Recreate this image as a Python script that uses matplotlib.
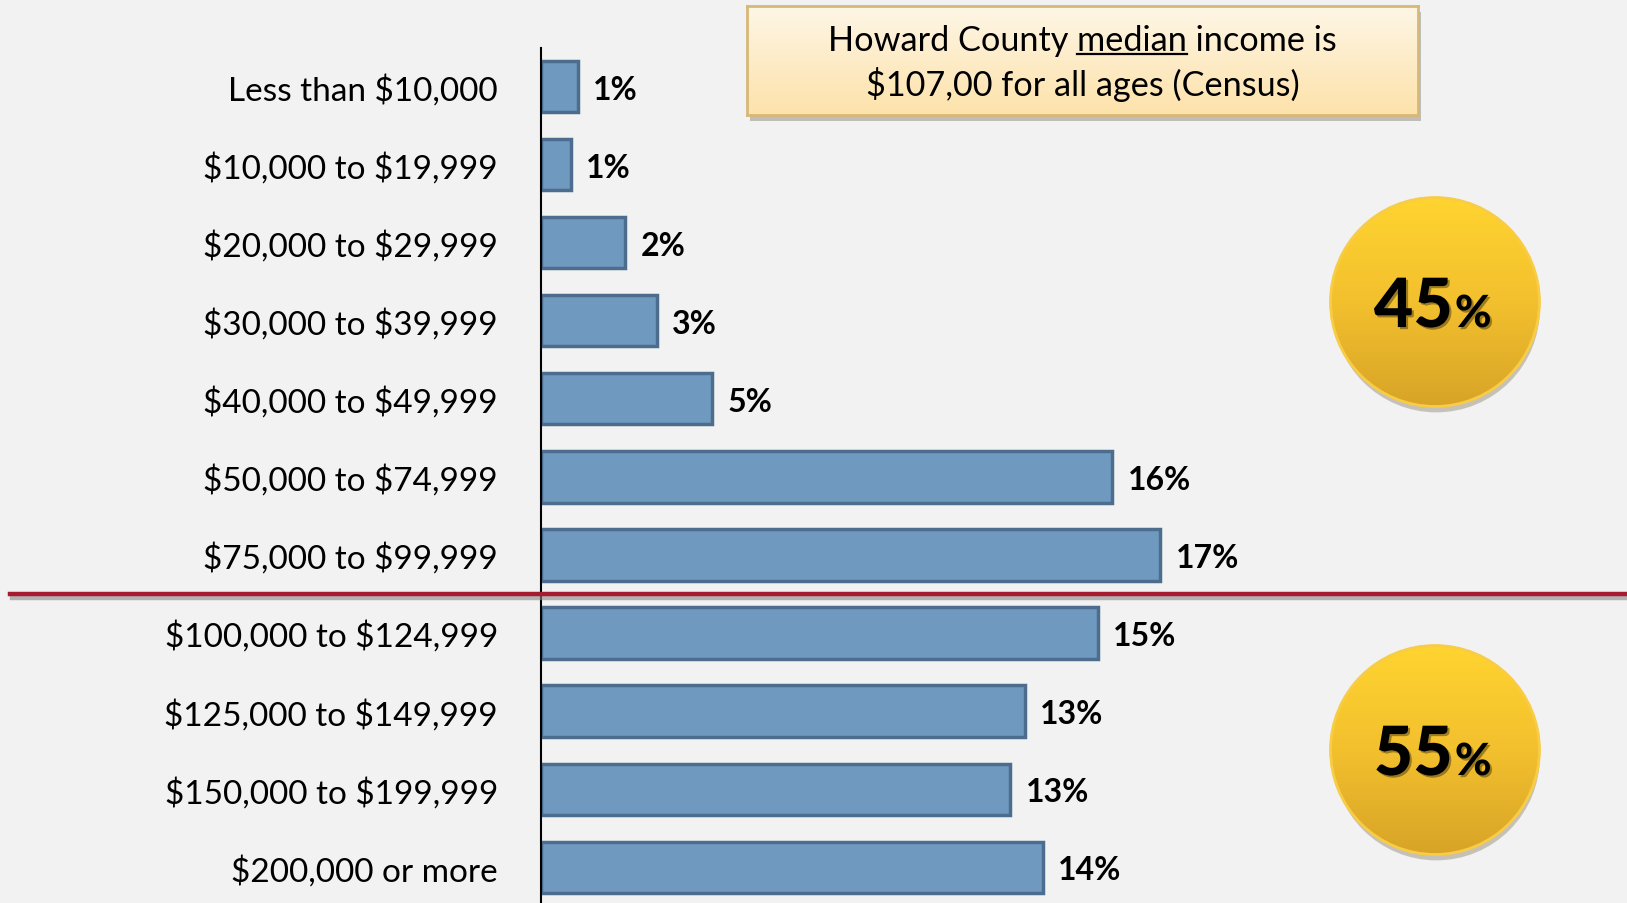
import numpy as np
import matplotlib
matplotlib.use('Agg')
import matplotlib.pyplot as plt
import matplotlib.patheffects as pe
import matplotlib.transforms as mtransforms
from matplotlib.patches import Circle, Rectangle
from matplotlib.colors import LinearSegmentedColormap

plt.rcParams['font.family'] = ['Lato', 'DejaVu Sans']
plt.rcParams['text.parse_math'] = False

# income brackets, top to bottom
categories = ['Less than $10,000', '$10,000 to $19,999', '$20,000 to $29,999',
              '$30,000 to $39,999', '$40,000 to $49,999', '$50,000 to $74,999',
              '$75,000 to $99,999', '$100,000 to $124,999', '$125,000 to $149,999',
              '$150,000 to $199,999', '$200,000 or more']
shares = [1.04, 0.84, 2.36, 3.25, 4.79, 16.0, 17.35, 15.6, 13.55, 13.15, 14.05]
share_labels = ['1%', '1%', '2%', '3%', '5%', '16%', '17%', '15%', '13%', '13%', '14%']
split_after = 6  # last bracket below $100k
group_totals = ['45', '55']
note_line1 = ['Howard County ', 'median', ' income is']
note_line2 = '$107,00 for all ages (Census)'

bg = '#f2f2f2'
W, H = 1627, 904
fig = plt.figure(figsize=(W / 100, H / 100), dpi=100, facecolor=bg)

def fx(px):
    return px / W

def fy(py):
    return 1 - py / H

# main bar chart
ax = fig.add_axes([fx(541), 0, fx(W - 541), fy(48.8)])
ax.set_facecolor('none')
y = np.arange(len(categories))
ax.barh(y, shares, height=0.655, color='#7099bf', edgecolor='#4c6d8e', linewidth=2.5)
ax.set_ylim(10.46, -0.5)
ax.set_xlim(0, (W - 541) / 35.7)
ax.set_yticks(y)
ax.set_yticklabels(categories, fontsize=24)
ax.tick_params(axis='y', length=0, pad=31)
ax.set_xticks([])
for s in ['top', 'right', 'bottom']:
    ax.spines[s].set_visible(False)
ax.spines['left'].set_linewidth(1.5)
ax.spines['left'].set_color('black')

for yi, v, lab in zip(y, shares, share_labels):
    ax.annotate(lab, (v, yi), xytext=(11, -2), textcoords='offset points',
                ha='left', va='center', fontsize=23, fontweight='bold')

# red divider between <100k and >=100k
trans = mtransforms.blended_transform_factory(fig.transFigure, ax.transData)
ax.plot([fx(10), 1.0], [split_after + 0.5] * 2, transform=trans, color='#a51c30',
        linewidth=3.2, clip_on=False, zorder=5,
        path_effects=[pe.SimpleLineShadow(offset=(1.5, -3), shadow_color='#888888', alpha=0.6),
                      pe.Normal()])

# note box
bx0, by0, bx1, by1 = 747, 7, 1418, 116
fig.patches.append(Rectangle((fx(bx0), fy(by1)), fx(bx1 - bx0), (by1 - by0) / H,
                             transform=fig.transFigure, facecolor='#fde4b0', edgecolor='none',
                             zorder=1.5,
                             path_effects=[pe.SimplePatchShadow(offset=(2, -4), alpha=0.3), pe.Normal()]))
bax = fig.add_axes([fx(bx0), fy(by1), fx(bx1 - bx0), (by1 - by0) / H])
bax.set_zorder(2)
box_cmap = LinearSegmentedColormap.from_list('box', ['#fef6e6', '#fde2aa'])
bax.imshow(np.linspace(0, 1, 100).reshape(-1, 1), cmap=box_cmap, aspect='auto',
           extent=(0, 1, 0, 1), zorder=0)
bax.set_xlim(0, 1)
bax.set_ylim(0, 1)
bax.set_xticks([])
bax.set_yticks([])
for s in bax.spines.values():
    s.set_color('#d6b877')
    s.set_linewidth(2)

line1 = ''.join(note_line1)
t1 = bax.text(0.5, 0.69, line1, ha='center', va='center', fontsize=24.7, zorder=3)
bax.text(0.5, 0.29, note_line2, ha='center', va='center', fontsize=24.7, zorder=3)

# underline the word "median"
fig.canvas.draw()
rend = fig.canvas.get_renderer()
bb = t1.get_window_extent(rend)
probe = bax.text(0, 0, note_line1[0] + note_line1[1], fontsize=24.7)
w_upto = probe.get_window_extent(rend).width
probe.set_text(note_line1[1])
w_word = probe.get_window_extent(rend).width
probe.remove()
inv = bax.transAxes.inverted()
ux0 = inv.transform((bb.x0 + w_upto - w_word, 0))[0]
ux1 = inv.transform((bb.x0 + w_upto, 0))[0]
uy = inv.transform((0, bb.y0 + 2))[1]
bax.plot([ux0, ux1], [uy, uy], color='black', linewidth=1.6, zorder=3)

# gold circles with group totals
gold = LinearSegmentedColormap.from_list('gold', ['#ffd430', '#f3c02e', '#d8a427'])
for total, (cx, cy) in zip(group_totals, [(1435, 303), (1435, 751)]):
    r = 105
    cax = fig.add_axes([fx(cx - r - 12), fy(cy + r + 12), (2 * r + 24) / W, (2 * r + 24) / H])
    cax.set_xlim(-1.12, 1.12)
    cax.set_ylim(-1.12, 1.12)
    cax.set_aspect('equal')
    cax.axis('off')
    shadow = Circle((0, 0), 0.99, facecolor='#d9a527', edgecolor='none', zorder=1,
                    path_effects=[pe.SimplePatchShadow(offset=(1, -5), alpha=0.25), pe.Normal()])
    cax.add_patch(shadow)
    im = cax.imshow(np.linspace(0, 1, 200).reshape(-1, 1), cmap=gold, aspect='auto',
                    extent=(-1, 1, -1, 1), zorder=2)
    clip = Circle((0, 0), 1.0, transform=cax.transData)
    im.set_clip_path(clip)
    cax.add_patch(Circle((0, 0), 1.0, facecolor='none', edgecolor='#f8cc45', linewidth=2, zorder=3))
    txt_fx = [pe.withSimplePatchShadow(offset=(1.5, -1.5), alpha=0.35)]
    cax.text(0.17, -0.24, total, ha='right', va='baseline', fontsize=49,
             fontweight='black', path_effects=txt_fx, zorder=4)
    cax.text(0.19, -0.24, '%', ha='left', va='baseline', fontsize=32,
             fontweight='black', path_effects=txt_fx, zorder=4)

fig.savefig('out.png', dpi=100, facecolor=bg)
